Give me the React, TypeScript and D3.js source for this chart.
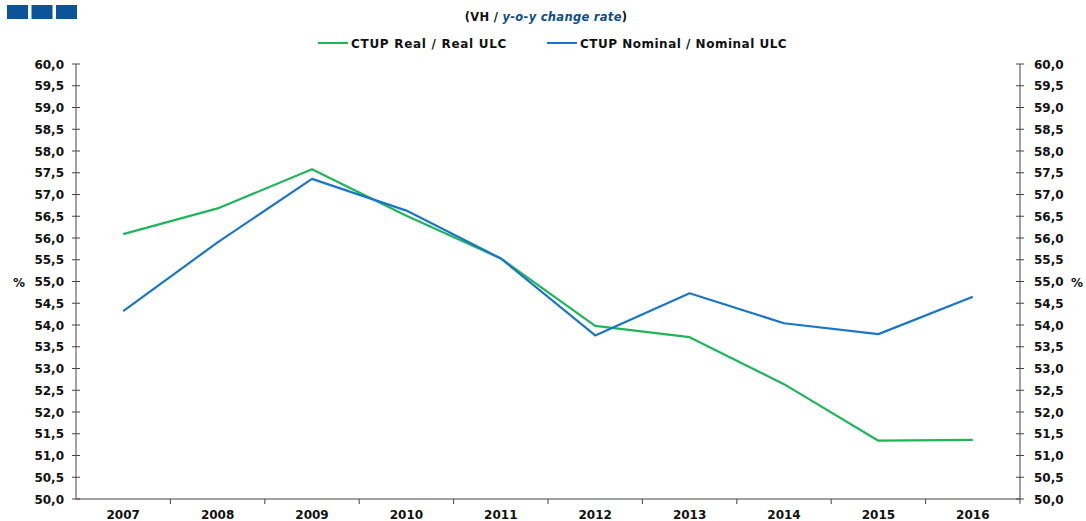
import React, { useRef, useEffect } from "react"
import * as d3 from "d3"

const years = ["2007", "2008", "2009", "2010", "2011", "2012", "2013", "2014", "2015", "2016"]
const realUlc = [56.09, 56.68, 57.58, 56.51, 55.53, 53.98, 53.72, 52.64, 51.34, 51.36]
const nominalUlc = [54.32, 55.9, 57.36, 56.63, 55.53, 53.76, 54.73, 54.04, 53.79, 54.65]
const yTicks = d3.range(50, 60.01, 0.5)

const seriesList = [
  { name: "CTUP Real / Real ULC", values: realUlc, color: "#1fb65a" },
  { name: "CTUP Nominal / Nominal ULC", values: nominalUlc, color: "#1a76c6" },
]

const W = 1086
const H = 521
const margin = { top: 64, right: 66, bottom: 22, left: 76 }

function App() {
  const ref = useRef<SVGSVGElement>(null)

  useEffect(() => {
    const svg = d3.select(ref.current)
    svg.selectAll("*").remove()
    const font = "'DejaVu Sans', Arial, sans-serif"
    const fs = "12px"

    const x = d3
      .scaleBand()
      .domain(years)
      .range([margin.left, W - margin.right])
    const y = d3
      .scaleLinear()
      .domain([50, 60])
      .range([H - margin.bottom, margin.top])

    // top-left logo squares
    svg
      .append("g")
      .selectAll("rect")
      .data([0, 1, 2])
      .join("rect")
      .attr("x", d => 7 + d * 24.5)
      .attr("y", 5)
      .attr("width", 21)
      .attr("height", 14)
      .attr("fill", "#0b5499")

    // title
    const title = svg
      .append("text")
      .attr("x", 546)
      .attr("y", 21)
      .attr("text-anchor", "middle")
      .style("font-family", font)
      .style("font-weight", "bold")
      .style("font-size", "11.5px")
      .style("letter-spacing", "0.3px")
      .attr("fill", "#111")
    title.append("tspan").text("(VH / ")
    title
      .append("tspan")
      .attr("fill", "#0b4d8c")
      .style("font-style", "italic")
      .text("y-o-y change rate")
    title.append("tspan").text(")")

    // legend
    const legendX = [318, 547]
    const legendSpacing = ["0.7px", "0.5px"]
    seriesList.forEach((s, i) => {
      const g = svg.append("g").attr("transform", `translate(${legendX[i]},43)`)
      g.append("line")
        .attr("x1", 0)
        .attr("x2", 30)
        .attr("stroke", s.color)
        .attr("stroke-width", 2)
      g.append("text")
        .attr("x", 33)
        .attr("y", 4.5)
        .style("font-family", font)
        .style("font-weight", "bold")
        .style("font-size", fs)
        .style("letter-spacing", legendSpacing[i])
        .attr("fill", "#111")
        .text(s.name)
    })

    const fmt = (v: number) => v.toFixed(1).replace(".", ",")

    // left axis
    const left = svg.append("g").attr("transform", `translate(${margin.left},0)`)
    left
      .append("line")
      .attr("y1", y(50))
      .attr("y2", y(60))
      .attr("stroke", "#444")
    left
      .selectAll("line.tick")
      .data(yTicks)
      .join("line")
      .attr("class", "tick")
      .attr("x1", -4)
      .attr("x2", 4)
      .attr("y1", d => y(d))
      .attr("y2", d => y(d))
      .attr("stroke", "#444")
    left
      .selectAll("text")
      .data(yTicks)
      .join("text")
      .attr("x", -12)
      .attr("y", d => y(d) + 4.5)
      .attr("text-anchor", "end")
      .style("font-family", font)
      .style("font-weight", "bold")
      .style("font-size", fs)
      .attr("fill", "#111")
      .text(fmt)

    // right axis
    const right = svg.append("g").attr("transform", `translate(${W - margin.right},0)`)
    right
      .append("line")
      .attr("y1", y(50))
      .attr("y2", y(60))
      .attr("stroke", "#444")
    right
      .selectAll("line.tick")
      .data(yTicks)
      .join("line")
      .attr("class", "tick")
      .attr("x1", -4)
      .attr("x2", 4)
      .attr("y1", d => y(d))
      .attr("y2", d => y(d))
      .attr("stroke", "#444")
    right
      .selectAll("text")
      .data(yTicks)
      .join("text")
      .attr("x", 14)
      .attr("y", d => y(d) + 4.5)
      .style("font-family", font)
      .style("font-weight", "bold")
      .style("font-size", fs)
      .attr("fill", "#111")
      .text(fmt)

    // % labels
    svg
      .selectAll("text.pct")
      .data([13, 1071])
      .join("text")
      .attr("class", "pct")
      .attr("x", d => d)
      .attr("y", y(55) + 5)
      .style("font-family", font)
      .style("font-weight", "bold")
      .style("font-size", fs)
      .attr("fill", "#111")
      .text("%")

    // x axis
    const bottom = svg.append("g")
    bottom
      .append("line")
      .attr("x1", margin.left)
      .attr("x2", W - margin.right)
      .attr("y1", y(50))
      .attr("y2", y(50))
      .attr("stroke", "#444")
    bottom
      .selectAll("line.tick")
      .data(years)
      .join("line")
      .attr("class", "tick")
      .attr("x1", d => x(d)! + x.bandwidth())
      .attr("x2", d => x(d)! + x.bandwidth())
      .attr("y1", y(50))
      .attr("y2", y(50) + 5)
      .attr("stroke", "#444")
    bottom
      .selectAll("text")
      .data(years)
      .join("text")
      .attr("x", d => x(d)! + x.bandwidth() / 2)
      .attr("y", y(50) + 20)
      .attr("text-anchor", "middle")
      .style("font-family", font)
      .style("font-weight", "bold")
      .style("font-size", fs)
      .attr("fill", "#111")
      .text(d => d)

    // lines
    const line = d3
      .line<number>()
      .x((d, i) => x(years[i])! + x.bandwidth() / 2)
      .y(d => y(d))
    seriesList.forEach(s => {
      svg
        .append("path")
        .datum(s.values)
        .attr("d", line)
        .attr("fill", "none")
        .attr("stroke", s.color)
        .attr("stroke-width", 2.2)
        .attr("stroke-linejoin", "round")
    })
  }, [])

  return (
    <svg
      ref={ref}
      width={W}
      height={H}
      style={{ position: "absolute", left: 0, top: 0, background: "#fff" }}
    />
  )
}

export default App
